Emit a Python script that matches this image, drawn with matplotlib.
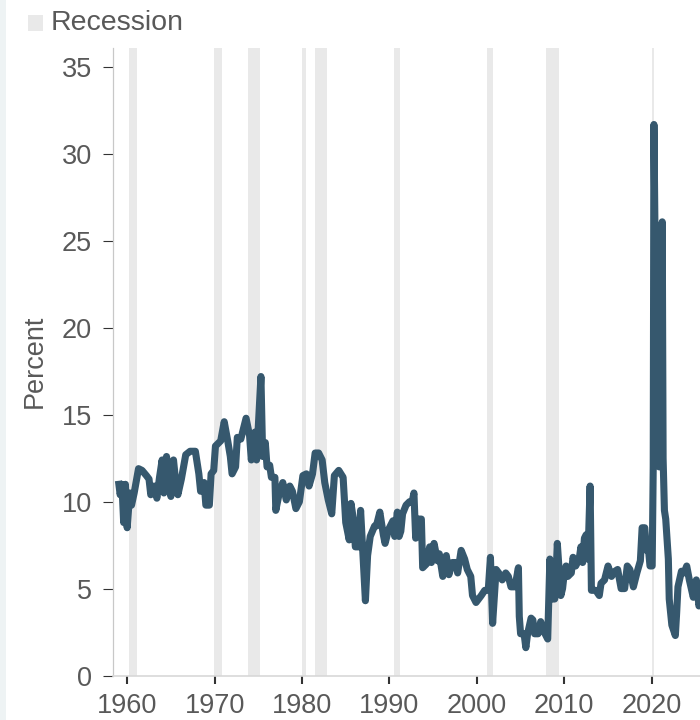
import matplotlib
matplotlib.use("Agg")
import matplotlib.pyplot as plt
from matplotlib.patches import Rectangle

# Personal saving rate (decimal year, percent)
years = [
    1959.0, 1959.2, 1959.4, 1959.6, 1959.8, 1960.0, 1960.3, 1960.5, 1960.8, 1961.3,
    1961.7, 1962.2, 1962.5, 1962.7, 1963.1, 1963.4, 1963.7, 1964.0, 1964.2, 1964.5,
    1965.0, 1965.3, 1965.6, 1965.8, 1966.2, 1966.7, 1967.2, 1967.8, 1968.2, 1968.4,
    1968.8, 1969.0, 1969.4, 1969.6, 1969.9, 1970.1, 1970.7, 1971.1, 1971.5, 1971.8,
    1972.0, 1972.4, 1972.6, 1973.0, 1973.4, 1973.6, 1974.0, 1974.2, 1974.6, 1974.8,
    1975.3, 1975.5, 1975.8, 1976.0, 1976.3, 1976.5, 1976.9, 1977.0, 1977.4, 1977.8,
    1978.2, 1978.6, 1978.9, 1979.3, 1979.7, 1980.1, 1980.5, 1980.8, 1981.2, 1981.5,
    1981.9, 1982.3, 1982.6, 1983.0, 1983.4, 1983.7, 1984.2, 1984.7, 1985.0, 1985.4,
    1985.6, 1985.9, 1986.1, 1986.5, 1986.7, 1987.25, 1987.5, 1987.8, 1988.3, 1988.5,
    1988.9, 1989.3, 1989.5, 1989.9, 1990.4, 1990.6, 1990.9, 1991.1, 1991.3, 1991.5,
    1991.9, 1992.3, 1992.6, 1992.8, 1993.0, 1993.3, 1993.65, 1993.8, 1994.2, 1994.6,
    1994.8, 1995.1, 1995.5, 1995.7, 1996.1, 1996.5, 1996.8, 1997.2, 1997.6, 1997.8,
    1998.2, 1998.6, 1998.9, 1999.3, 1999.5, 1999.9, 2000.5, 2000.9, 2001.3, 2001.55,
    2001.8, 2002.2, 2002.5, 2002.9, 2003.3, 2003.6, 2003.9, 2004.3, 2004.5, 2004.75,
    2004.85, 2005.0, 2005.4, 2005.6, 2005.8, 2006.2, 2006.4, 2006.6, 2007.0, 2007.3,
    2007.5, 2007.8, 2008.1, 2008.35, 2008.5, 2008.9, 2009.0, 2009.2, 2009.6, 2009.8,
    2010.0, 2010.2, 2010.4, 2010.8, 2011.0, 2011.3, 2011.7, 2011.9, 2012.1, 2012.3,
    2012.5, 2012.7, 2012.95, 2013.1, 2013.6, 2014.0, 2014.2, 2014.6, 2015.0, 2015.4,
    2015.8, 2016.1, 2016.5, 2016.9, 2017.2, 2017.5, 2017.9, 2018.3, 2018.7, 2018.9,
    2019.2, 2019.4, 2019.6, 2019.8, 2020.05, 2020.17, 2020.25, 2020.4, 2020.55, 2020.7,
    2020.85, 2021.0, 2021.1, 2021.2, 2021.3, 2021.45, 2021.6, 2021.9, 2022.0, 2022.3,
    2022.7, 2022.85, 2023.0, 2023.4, 2023.7, 2024.0, 2024.3, 2024.75, 2025.1, 2025.4,
    2025.6,
]
saving_rate = [
    11.2, 10.4, 11.0, 8.8, 11.0, 8.5, 10.5, 9.8, 10.5, 11.9,
    11.8, 11.5, 11.3, 10.4, 10.9, 10.2, 11.4, 12.4, 10.5, 12.6,
    10.3, 12.4, 10.9, 10.4, 11.3, 12.7, 12.9, 12.9, 11.6, 10.6,
    11.1, 9.8, 9.8, 11.6, 11.8, 13.2, 13.5, 14.6, 13.5, 12.6,
    11.6, 12.0, 13.7, 13.6, 14.4, 14.8, 13.8, 12.4, 14.0, 12.4,
    17.2, 12.6, 13.4, 12.0, 12.1, 11.4, 11.4, 9.5, 10.5, 11.1,
    10.1, 10.9, 10.6, 9.6, 10.0, 11.5, 11.6, 10.9, 11.6, 12.8,
    12.8, 12.4, 11.1, 10.1, 9.3, 11.5, 11.8, 11.4, 8.8, 7.8,
    9.9, 8.9, 7.4, 7.4, 9.5, 4.3, 6.9, 8.0, 8.6, 8.6,
    9.4, 8.1, 7.6, 8.4, 8.9, 8.0, 9.4, 8.0, 8.3, 9.3,
    9.8, 10.0, 10.0, 10.5, 7.9, 9.0, 9.0, 6.2, 6.4, 7.4,
    6.5, 7.6, 6.6, 7.0, 5.7, 6.9, 5.8, 6.5, 6.5, 5.9,
    7.2, 6.7, 6.1, 5.7, 4.6, 4.2, 4.6, 4.9, 4.9, 6.8,
    3.0, 6.1, 5.9, 5.5, 5.9, 5.7, 5.1, 5.1, 5.5, 6.2,
    3.4, 2.4, 2.4, 1.6, 2.4, 3.3, 3.2, 2.4, 2.4, 3.1,
    2.8, 2.4, 2.1, 6.7, 4.4, 4.4, 5.1, 7.6, 4.6, 5.0,
    5.9, 6.3, 5.7, 5.9, 6.8, 6.3, 6.7, 7.4, 6.5, 7.9,
    8.1, 6.7, 10.9, 4.9, 4.9, 4.6, 5.3, 5.5, 6.3, 5.7,
    6.0, 6.1, 5.0, 5.0, 6.3, 6.1, 5.1, 5.9, 6.6, 8.5,
    8.5, 7.2, 7.4, 6.3, 6.3, 12.0, 31.7, 24.0, 18.0, 14.0,
    12.0, 13.5, 19.0, 26.1, 12.5, 9.5, 9.0, 6.7, 4.4, 2.9,
    2.3, 3.6, 5.1, 6.0, 5.9, 6.3, 5.5, 4.5, 5.5, 4.0,
    4.4,
]

# NBER recessions (start, end) in decimal years
rec_start = [1960.25, 1969.92, 1973.83, 1980.0, 1981.5, 1990.5, 2001.17, 2007.92, 2020.08]
rec_end = [1961.08, 1970.83, 1975.17, 1980.5, 1982.83, 1991.17, 2001.83, 2009.42, 2020.25]

decades = [1960, 1970, 1980, 1990, 2000, 2010, 2020]
yticks = [0, 5, 10, 15, 20, 25, 30, 35]

text_color = "#595959"
line_color = "#36586e"
band_color = "#e9e9e9"

plt.rcParams['font.family'] = ['Liberation Sans', 'DejaVu Sans']

fig = plt.figure(figsize=(7, 7.2), dpi=100)
ax = fig.add_axes([113 / 700, 1 - 675.5 / 720, 1 - 113 / 700, 627.5 / 720])

for s, e in zip(rec_start, rec_end):
    ax.axvspan(s, e, color=band_color, lw=0, zorder=1)

ax.plot(years, saving_rate, color=line_color, lw=5.1, solid_joinstyle="round",
        solid_capstyle="butt", zorder=3)

ax.set_xlim(1958.38, 2025.52)
ax.set_ylim(0, 36.1)
ax.set_xticks(decades)
ax.set_yticks(yticks)

for side in ["top", "right"]:
    ax.spines[side].set_visible(False)
ax.spines["left"].set_color("#c8c8c8")
ax.spines["left"].set_linewidth(0.9)
ax.spines["bottom"].set_color("#d8d8d8")
ax.spines["bottom"].set_linewidth(1.2)

ax.tick_params(axis="y", length=7.2, width=0.8, color="#333333", pad=8,
               labelsize=19.5, labelcolor=text_color)
ax.tick_params(axis="x", length=6, width=1.5, color="#333333", pad=6.5,
               labelsize=19.5, labelcolor=text_color)

ax.set_ylabel("Percent", fontsize=19.5, color=text_color)
ax.yaxis.set_label_coords(-0.111, 0.5)

# left strip and legend
fig.patches.append(Rectangle((0, 0), 6 / 700, 1, transform=fig.transFigure,
                             color="#eef3f4", lw=0, zorder=0))
fig.patches.append(Rectangle((28 / 700, 1 - 31 / 720), 15 / 700, 16 / 720,
                             transform=fig.transFigure, color=band_color, lw=0))
fig.text(51 / 700, 1 - 23 / 720, "Recession", fontsize=20.5, color=text_color,
         va="center", ha="left")

fig.savefig("out.png", dpi=100)
